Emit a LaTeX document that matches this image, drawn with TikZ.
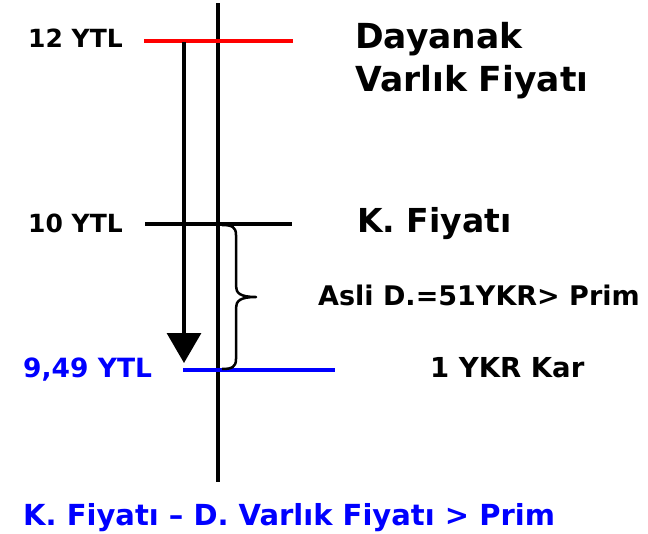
\documentclass[tikz,border=0pt]{standalone}
\usepackage{fontspec}
\setmainfont{DejaVu Sans}
\usetikzlibrary{arrows.meta}
\definecolor{pblue}{RGB}{0,0,255}
\definecolor{pred}{RGB}{255,0,0}
\tikzset{
  lbl/.style={anchor=base west,inner sep=0pt,font=\bfseries\fontsize{#1}{#1}\selectfont},
  lvl/.style={line width=3.2pt},
}
\begin{document}
\begin{tikzpicture}[x=1pt,y=-1pt]
\useasboundingbox (0,0) rectangle (648,533);
% main vertical axis
\coordinate (vt) at (218,3);
\coordinate (vb) at (218,482);
\draw[line width=3.2pt] (vt) -- (vb);
% levels
\coordinate (r1) at (144,41);  \coordinate (r2) at (293,41);
\coordinate (k1) at (145,224); \coordinate (k2) at (292,224);
\coordinate (b1) at (183,370); \coordinate (b2) at (335,370);
\draw[lvl,pred] (r1) -- (r2);
\draw[lvl,black] (k1) -- (k2);
\draw[lvl,pblue] (b1) -- (b2);
% arrow
\coordinate (a0) at (184,42);
\coordinate (a1) at (184,363);
\draw[line width=3.2pt,-{Triangle[width=34pt,length=30pt]}] (a0) -- (a1);
% brace
\coordinate (br1) at (222,225);
\coordinate (br2) at (222,369);
\coordinate (brm) at (256,297);
\draw[line width=2.5pt,line join=round]
  (br1) .. controls (232,225) and (236,227) .. (236,235)
  -- (236,286) .. controls (236,293) and (240,297) .. (brm)
  .. controls (240,297) and (236,301) .. (236,308)
  -- (236,359) .. controls (236,367) and (232,369) .. (br2);
% labels
\node[lbl=25] (l12) at (28,47) {12 YTL};
\node[lbl=25] (l10) at (28,232) {10 YTL};
\node[lbl=26.5,text=pblue] (l949) at (23,377) {9,49 YTL};
\node[lbl=34.5] (day) at (355,48) {Dayanak};
\node[lbl=34.5] (var) at (355,91) {Varlık Fiyatı};
\node[lbl=33] (kf) at (357,232) {K. Fiyatı};
\node[lbl=27] (asli) at (318,305) {Asli D.=51YKR> Prim};
\node[lbl=27.5] (kar) at (430,377) {1 YKR Kar};
\node[lbl=29,text=pblue] (bot) at (23,525) {K. Fiyatı – D. Varlık Fiyatı > Prim};
\end{tikzpicture}
\end{document}
